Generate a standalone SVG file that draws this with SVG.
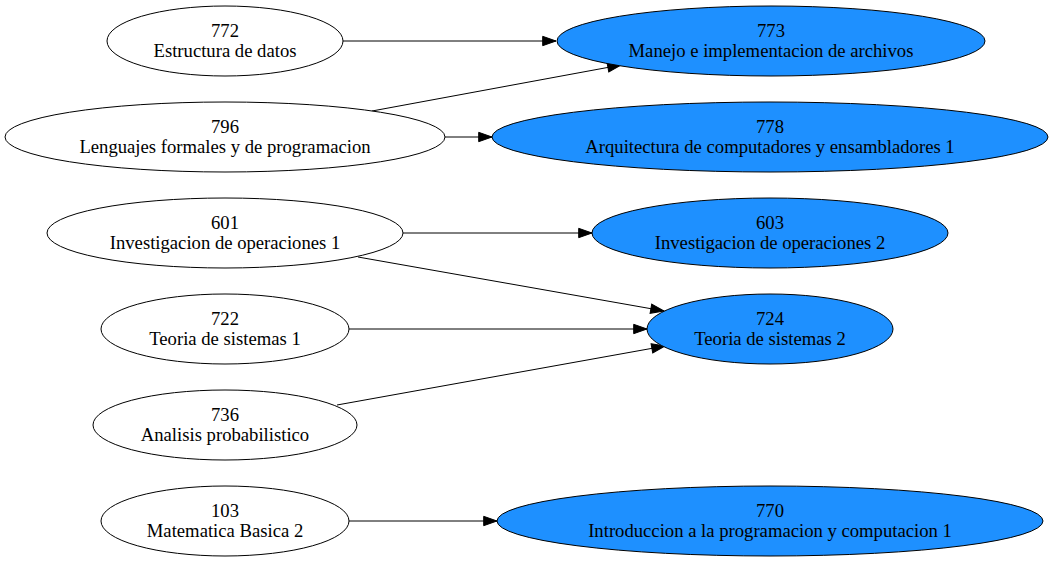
<svg xmlns="http://www.w3.org/2000/svg" width="1054" height="562" viewBox="0 0 1054 562">
<defs>
<style>
.n ellipse{stroke:#000;stroke-width:1;fill:#fff}
.n.b ellipse{fill:#1e90ff}
.n text{font-family:"Liberation Serif","Times New Roman",serif;font-size:18.67px;text-anchor:middle;fill:#000}
.e line{stroke:#000;stroke-width:1}
</style>
<marker id="ah" markerUnits="userSpaceOnUse" markerWidth="14" markerHeight="10" refX="13.3" refY="4.67" orient="auto" overflow="visible">
<path d="M0,0 L13.3,4.67 L0,9.33 Z" fill="#000" stroke="#000" stroke-width="1"/>
</marker>
</defs>
<rect width="1054" height="562" fill="#fff"/>
<g id="edges" class="e">
<line x1="343" y1="41" x2="556" y2="41" marker-end="url(#ah)"/>
<line x1="372" y1="111" x2="621" y2="65" marker-end="url(#ah)"/>
<line x1="445" y1="137" x2="492" y2="137" marker-end="url(#ah)"/>
<line x1="403" y1="233" x2="592" y2="233" marker-end="url(#ah)"/>
<line x1="358" y1="257" x2="664" y2="311" marker-end="url(#ah)"/>
<line x1="349" y1="329" x2="647" y2="329" marker-end="url(#ah)"/>
<line x1="337" y1="405" x2="665" y2="346" marker-end="url(#ah)"/>
<line x1="349" y1="521" x2="497" y2="521" marker-end="url(#ah)"/>
</g>
<g id="n772" class="n"><ellipse cx="225" cy="41" rx="118" ry="35"/><text x="225" y="37">772</text><text x="225" y="57">Estructura de datos</text></g>
<g id="n796" class="n"><ellipse cx="225" cy="137" rx="220" ry="35"/><text x="225" y="133">796</text><text x="225" y="153">Lenguajes formales y de programacion</text></g>
<g id="n601" class="n"><ellipse cx="225" cy="233" rx="178" ry="35"/><text x="225" y="229">601</text><text x="225" y="249">Investigacion de operaciones 1</text></g>
<g id="n722" class="n"><ellipse cx="225" cy="329" rx="124" ry="35"/><text x="225" y="325">722</text><text x="225" y="345">Teoria de sistemas 1</text></g>
<g id="n736" class="n"><ellipse cx="225" cy="425" rx="132" ry="35"/><text x="225" y="421">736</text><text x="225" y="441">Analisis probabilistico</text></g>
<g id="n103" class="n"><ellipse cx="225" cy="521" rx="124" ry="35"/><text x="225" y="517">103</text><text x="225" y="537">Matematica Basica 2</text></g>
<g id="n773" class="n b"><ellipse cx="771" cy="41" rx="214" ry="35"/><text x="771" y="37">773</text><text x="771" y="57">Manejo e implementacion de archivos</text></g>
<g id="n778" class="n b"><ellipse cx="770" cy="137" rx="278" ry="35"/><text x="770" y="133">778</text><text x="770" y="153">Arquitectura de computadores y ensambladores 1</text></g>
<g id="n603" class="n b"><ellipse cx="770" cy="233" rx="178" ry="35"/><text x="770" y="229">603</text><text x="770" y="249">Investigacion de operaciones 2</text></g>
<g id="n724" class="n b"><ellipse cx="770" cy="329" rx="123" ry="35"/><text x="770" y="325">724</text><text x="770" y="345">Teoria de sistemas 2</text></g>
<g id="n770" class="n b"><ellipse cx="770" cy="521" rx="273" ry="35"/><text x="770" y="517">770</text><text x="770" y="537">Introduccion a la programacion y computacion 1</text></g>
</svg>
